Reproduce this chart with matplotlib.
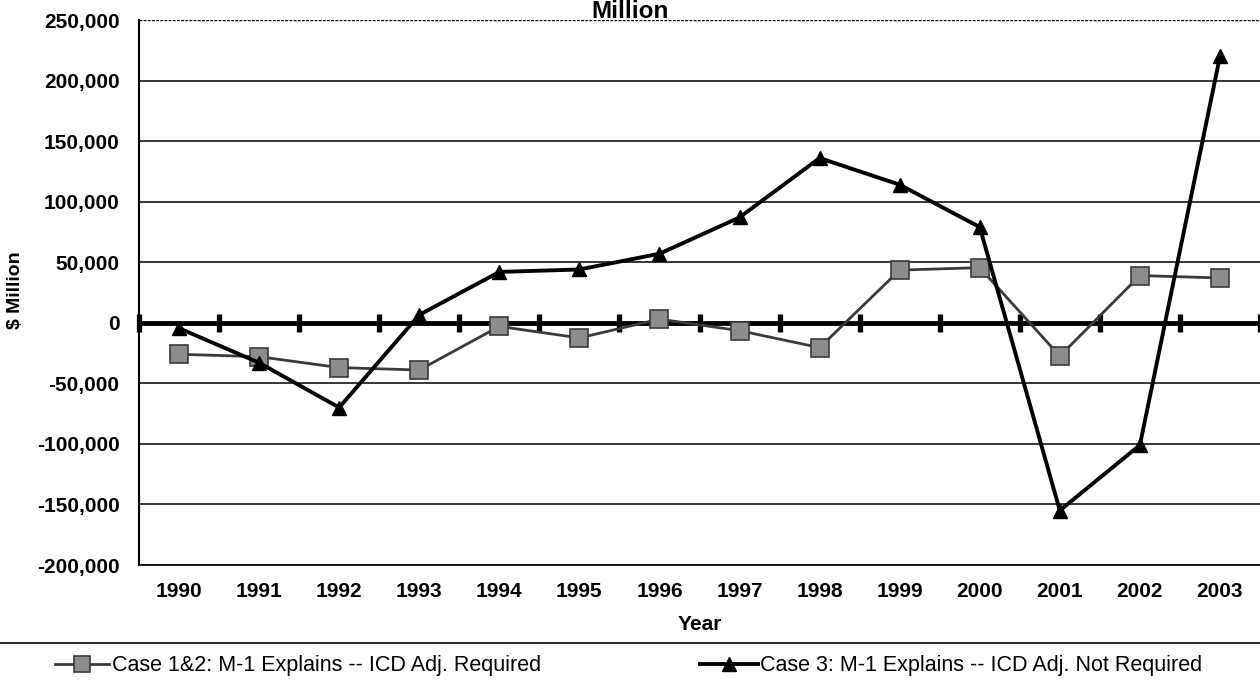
import matplotlib.pyplot as plt
from matplotlib.lines import Line2D
from matplotlib.ticker import FuncFormatter, FixedLocator

years = ["1990", "1991", "1992", "1993", "1994", "1995", "1996",
         "1997", "1998", "1999", "2000", "2001", "2002", "2003"]
case12 = [-26000, -28000, -37000, -39000, -3000, -12500, 3000,
          -6500, -20500, 43500, 45500, -27500, 39000, 37000]
case3 = [-4500, -33000, -70000, 6500, 42000, 44000, 57000,
         87000, 136000, 114000, 79000, -155000, -101000, 220000]
yticks = [-200000, -150000, -100000, -50000, 0, 50000, 100000, 150000, 200000, 250000]

label12 = "Case 1&2: M-1 Explains -- ICD Adj. Required"
label3 = "Case 3: M-1 Explains -- ICD Adj. Not Required"


def do_plot():
    plt.rcParams['font.family'] = ['Liberation Sans', 'DejaVu Sans']
    fig = plt.figure(figsize=(12.6, 6.88), dpi=100)
    ax = fig.add_axes([139 / 1260, 1 - 565 / 688, 1 - 139 / 1260, (565 - 20) / 688])

    x = list(range(len(years)))

    # horizontal gridlines, the top one is faint/dotted in the scan
    for v in yticks:
        if v == 250000:
            ax.axhline(v, color='black', lw=1.0, ls=(0, (2, 1)), zorder=1)
        else:
            ax.axhline(v, color='black', lw=1.1, zorder=1)

    # zero axis with crossing ticks at category boundaries
    ax.spines['top'].set_position(('data', 0))
    ax.spines['top'].set_linewidth(3.5)
    ax.spines['top'].set_zorder(2)
    ax.xaxis.set_minor_locator(FixedLocator([i - 0.5 for i in range(len(years) + 1)]))
    ax.tick_params(axis='x', which='minor', bottom=False, top=True, direction='inout',
                   length=13, width=3.8, color='black')
    ax.tick_params(axis='x', which='major', bottom=True, top=False, length=0, pad=12,
                   labelsize=15)
    ax.set_xticks(x)
    ax.set_xticklabels(years, fontweight='bold')

    ax.plot(x, case12, '-s', color='#3a3a3a', lw=2.0, ms=12.5, mfc='#8c8c8c',
            mec='#3a3a3a', mew=1.2, zorder=4, label=label12)
    ax.plot(x, case3, '-^', color='black', lw=2.8, ms=9.5, mfc='black', mec='black',
            zorder=5, label=label3)

    ax.set_xlim(-0.5, 13.5)
    ax.set_ylim(-200000, 250000)
    ax.set_yticks(yticks)
    ax.yaxis.set_major_formatter(FuncFormatter(lambda v, p: format(int(v), ',')))
    ax.tick_params(axis='y', length=0, pad=14, labelsize=15)
    for t in ax.get_yticklabels():
        t.set_fontweight('bold')

    ax.spines['right'].set_visible(False)
    ax.spines['left'].set_linewidth(1.5)
    ax.spines['bottom'].set_linewidth(1.2)

    ax.set_ylabel("$ Million", fontsize=14, fontweight='bold')
    ax.yaxis.set_label_coords(-0.1025, 0.504)

    fig.text(0.5, 1 - 18.5 / 688, "Million", ha='center', va='baseline',
             fontsize=17.5, fontweight='bold')
    fig.text(700 / 1260, 1 - 624 / 688, "Year", ha='center', va='center',
             fontsize=15, fontweight='bold')

    fig.add_artist(Line2D([0, 1], [1 - 643 / 688, 1 - 643 / 688], transform=fig.transFigure,
                          color='black', lw=1.2))

    h1, h2 = ax.get_legend_handles_labels()[0]
    fig.legend(handles=[h1], loc='center left', bbox_to_anchor=(55 / 1260, 1 - 666 / 688),
               frameon=False, handlelength=2.5, handletextpad=0.15, fontsize=15.5,
               borderpad=0, borderaxespad=0, markerscale=0.95)
    fig.legend(handles=[h2], loc='center left', bbox_to_anchor=(700 / 1260, 1 - 666 / 688),
               frameon=False, handlelength=2.7, handletextpad=0.1, fontsize=15.5,
               borderpad=0, borderaxespad=0)

    plt.savefig('out.png', dpi=100)


if __name__ == '__main__':
    do_plot()
